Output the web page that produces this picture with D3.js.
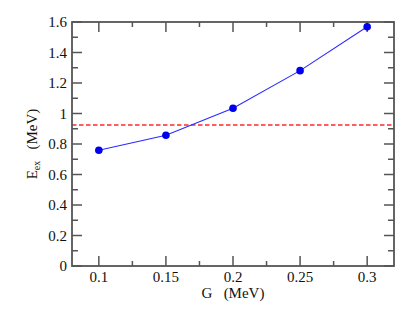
<!DOCTYPE html>
<html>
<head>
<meta charset="UTF-8">
<script src="https://d3js.org/d3.v7.min.js"></script>
<style>
  body { margin: 0; background: #fff; }
  svg { display: block; }
</style>
</head>
<body>
<div id="chart"></div>
<script>
// data
const gValues = [0.1, 0.15, 0.2, 0.25, 0.3];
const eValues = [0.759, 0.857, 1.034, 1.281, 1.569];
const eErrors = [0, 0, 0, 0, 0.025];
const refLevel = 0.922;
const xTicks = [0.1, 0.15, 0.2, 0.25, 0.3];
const yTicks = [0, 0.2, 0.4, 0.6, 0.8, 1, 1.2, 1.4, 1.6];

const width = 415, height = 315;
const margin = { top: 22, right: 21, bottom: 49, left: 72 };
const serif = "'Liberation Serif', 'Times New Roman', 'DejaVu Serif', serif";

const svg = d3.select('#chart').append('svg')
    .attr('width', width)
    .attr('height', height)
    .attr('font-family', serif);

const x = d3.scaleLinear().domain([0.08, 0.32]).range([margin.left, width - margin.right]);
const y = d3.scaleLinear().domain([0, 1.6]).range([height - margin.bottom, margin.top]);

const axisColor = '#555';
const x0 = x.range()[0], x1 = x.range()[1];
const y0 = y.range()[0], y1 = y.range()[1];

// minor ticks
const xMinor = d3.range(0.125, 0.32, 0.05);
const yMinor = d3.range(0.1, 1.6, 0.2);

const ticks = svg.append('g').attr('stroke', axisColor).attr('stroke-width', 1.5);

xTicks.forEach(v => {
    ticks.append('line').attr('x1', x(v)).attr('x2', x(v)).attr('y1', y0).attr('y2', y0 - 10);
    ticks.append('line').attr('x1', x(v)).attr('x2', x(v)).attr('y1', y1).attr('y2', y1 + 10);
});
xMinor.forEach(v => {
    ticks.append('line').attr('x1', x(v)).attr('x2', x(v)).attr('y1', y0).attr('y2', y0 - 5);
    ticks.append('line').attr('x1', x(v)).attr('x2', x(v)).attr('y1', y1).attr('y2', y1 + 5);
});
yTicks.forEach(v => {
    ticks.append('line').attr('y1', y(v)).attr('y2', y(v)).attr('x1', x0).attr('x2', x0 + 10);
    ticks.append('line').attr('y1', y(v)).attr('y2', y(v)).attr('x1', x1).attr('x2', x1 - 10);
});
yMinor.forEach(v => {
    ticks.append('line').attr('y1', y(v)).attr('y2', y(v)).attr('x1', x0).attr('x2', x0 + 6);
    ticks.append('line').attr('y1', y(v)).attr('y2', y(v)).attr('x1', x1).attr('x2', x1 - 6);
});

// reference line
const yRef = Math.round(y(refLevel));
svg.append('line')
    .attr('x1', x0).attr('x2', x1)
    .attr('y1', yRef).attr('y2', yRef)
    .attr('stroke', '#ff2a2a')
    .attr('stroke-width', 1.4)
    .attr('stroke-dasharray', '4.5,2.5');

// frame
svg.append('rect')
    .attr('x', x0).attr('y', y1)
    .attr('width', x1 - x0).attr('height', y0 - y1)
    .attr('fill', 'none')
    .attr('stroke', axisColor)
    .attr('stroke-width', 1.8);

// tick labels
svg.append('g').selectAll('text')
    .data(xTicks).enter().append('text')
    .attr('x', d => x(d))
    .attr('y', y0 + 16)
    .attr('text-anchor', 'middle')
    .attr('font-size', 15)
    .attr('fill', '#111')
    .text(d => d3.format('')(d));

svg.append('g').selectAll('text')
    .data(yTicks).enter().append('text')
    .attr('x', x0 - 5)
    .attr('y', d => y(d) + 5)
    .attr('text-anchor', 'end')
    .attr('font-size', 15)
    .attr('fill', '#111')
    .text(d => d3.format('')(d));

// axis titles
svg.append('text')
    .attr('x', x(0.2))
    .attr('y', y0 + 32)
    .attr('text-anchor', 'middle')
    .attr('font-size', 15)
    .attr('fill', '#111')
    .attr('xml:space', 'preserve')
    .text('G   (MeV)');

const yt = svg.append('text')
    .attr('transform', `translate(37, ${(y0 + y1) / 2}) rotate(-90)`)
    .attr('text-anchor', 'middle')
    .attr('font-size', 15)
    .attr('fill', '#111');
yt.append('tspan').text('E');
yt.append('tspan').attr('font-size', 10).attr('dy', 3).text('ex');
yt.append('tspan').attr('dy', -3).attr('xml:space', 'preserve').text('   (MeV)');

// series
const pts = gValues.map((g, i) => ({ g, e: eValues[i], err: eErrors[i] }));

svg.append('path')
    .datum(pts)
    .attr('fill', 'none')
    .attr('stroke', '#2a2aff')
    .attr('stroke-width', 1.1)
    .attr('d', d3.line().x(d => x(d.g)).y(d => y(d.e)));

svg.append('g').attr('stroke', '#0000ee').attr('stroke-width', 1)
    .selectAll('line')
    .data(pts.filter(d => d.err > 0)).enter().append('line')
    .attr('x1', d => x(d.g)).attr('x2', d => x(d.g))
    .attr('y1', d => y(d.e - d.err)).attr('y2', d => y(d.e + d.err));

svg.append('g').selectAll('circle')
    .data(pts).enter().append('circle')
    .attr('cx', d => x(d.g))
    .attr('cy', d => y(d.e))
    .attr('r', 3.8)
    .attr('fill', '#0000ee');
</script>
</body>
</html>
